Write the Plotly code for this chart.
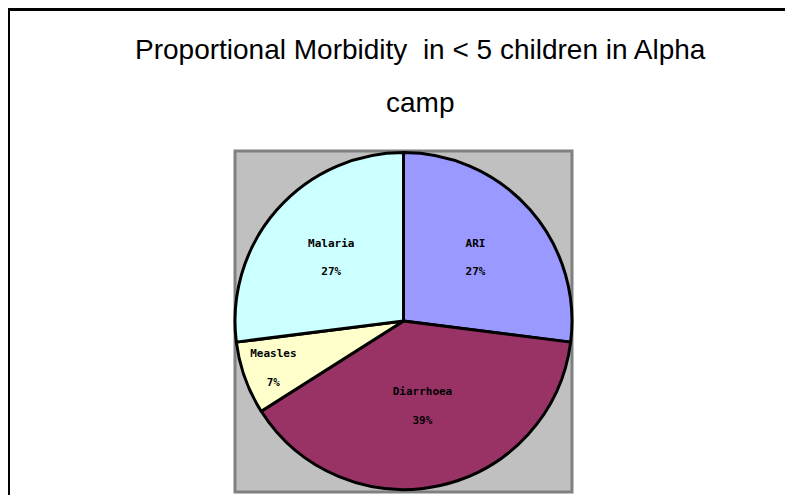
import plotly.graph_objects as go

categories = ["ARI", "Diarrhoea", "Measles", "Malaria"]
values = [27, 39, 7, 27]
colors = ["#9999FF", "#993366", "#FFFFCC", "#CCFFFF"]
title_line1 = "Proportional Morbidity  in < 5 children in Alpha"
title_line2 = "camp"

W, H = 793, 495
OFF = 8  # page body margin offset

def px(x):
    return (x - OFF) / W

def py(y):
    return 1 - (y - OFF) / H

fig = go.Figure(go.Pie(
    labels=categories,
    values=values,
    marker=dict(colors=colors, line=dict(color="black", width=3)),
    sort=False,
    direction="clockwise",
    rotation=0,
    texttemplate="%{label}<br><br>%{percent:.0%}",
    textposition="inside",
    insidetextorientation="horizontal",
    textfont=dict(family="DejaVu Sans Mono", size=11, color="black", weight="bold"),
    domain=dict(x=[px(235), px(572)], y=[py(492), py(150)]),
    showlegend=False,
    hoverinfo="label+percent",
))

fig.update_layout(
    width=W, height=H,
    margin=dict(l=0, r=0, t=0, b=0),
    paper_bgcolor="white",
    plot_bgcolor="white",
    uniformtext=dict(minsize=11, mode="show"),
    shapes=[
        dict(type="rect", xref="paper", yref="paper",
             x0=px(235), x1=px(572), y0=py(492), y1=py(151),
             fillcolor="#C0C0C0", line=dict(color="#808080", width=3), layer="below"),
        dict(type="line", xref="paper", yref="paper",
             x0=px(7), x1=1, y0=py(9.5), y1=py(9.5),
             line=dict(color="black", width=3)),
        dict(type="line", xref="paper", yref="paper",
             x0=px(8.5), x1=px(8.5), y0=0, y1=py(8),
             line=dict(color="black", width=3)),
    ],
    annotations=[
        dict(text=title_line1, xref="paper", yref="paper", x=px(420), y=py(50),
             showarrow=False, xanchor="center", yanchor="middle",
             font=dict(family="Liberation Sans Narrow, Arial Narrow, Liberation Sans, sans-serif", size=28, color="black")),
        dict(text=title_line2, xref="paper", yref="paper", x=px(420), y=py(102),
             showarrow=False, xanchor="center", yanchor="middle",
             font=dict(family="Liberation Sans Narrow, Arial Narrow, Liberation Sans, sans-serif", size=28, color="black")),
    ],
)

fig.write_html("out.html")
